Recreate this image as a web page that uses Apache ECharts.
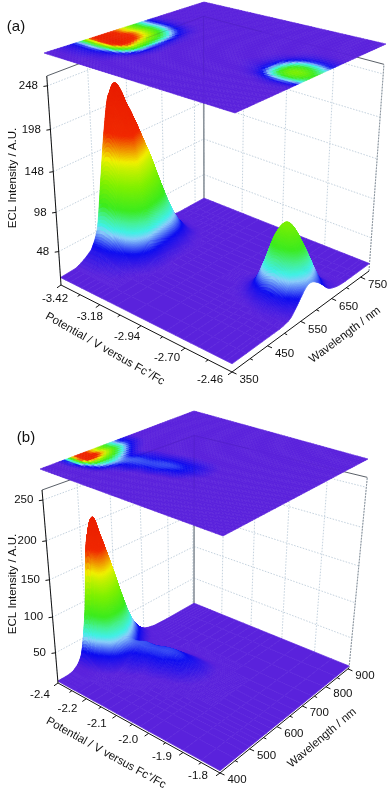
<!DOCTYPE html>
<html><head><meta charset="utf-8">
<style>html,body{margin:0;padding:0;background:#fff}#c{width:388px;height:791px}</style>
<script src="https://cdn.jsdelivr.net/npm/echarts@6/dist/echarts.min.js"></script>
</head><body><div id="c"></div>
<script>
const potentialsA=[-3.42,-3.39,-3.36,-3.32,-3.29,-3.26,-3.23,-3.2,-3.17,-3.13,-3.08,-2.99,-2.89,-2.8,-2.75,-2.71,-2.67,-2.63,-2.59,-2.55,-2.51,-2.49,-2.46];
const wavelengthsA=[350,390,435,455,470,485,500,515,530,550,565,580,600,615,635,650,670,695,715,735,780];
const intensityA=[
[14,14,14,14,14,14,14,14,14,14,14,14,14,14,14,14,14,14,14,14,14,14,14],
[15,15,15,15,14,14,14,14,14,14,14,14,14,14,14,14,14,14,14,14,14,14,14],
[28,29,29,27,24,22,19,16,15,14,14,14,14,14,14,14,14,14,14,14,14,14,14],
[53,56,55,51,43,36,27,20,16,14,14,14,14,14,14,14,14,14,14,14,14,14,14],
[112,119,117,106,88,69,48,29,19,15,14,14,14,14,14,14,14,15,15,15,14,14,14],
[171,183,180,163,132,102,68,38,22,15,14,14,14,14,14,14,15,15,15,15,15,15,14],
[210,225,221,200,162,124,82,44,25,16,14,14,14,14,14,15,15,16,17,17,16,16,15],
[196,210,206,186,151,116,77,41,24,16,14,14,14,14,15,16,18,22,23,22,20,19,17],
[180,193,189,172,139,107,71,39,23,15,14,14,14,15,16,20,28,38,42,40,34,29,24],
[155,166,163,148,120,93,63,35,22,15,14,14,14,15,19,27,47,70,80,75,62,48,36],
[136,145,142,129,106,82,56,32,21,15,14,14,14,16,20,32,58,89,102,95,77,60,44],
[112,119,117,106,88,69,48,29,19,15,14,14,14,16,20,32,60,92,106,99,80,62,45],
[81,86,85,77,64,51,37,24,18,15,14,14,14,15,19,29,51,77,88,82,67,52,39],
[57,60,59,54,46,38,29,20,16,14,14,14,14,15,18,24,40,58,66,62,51,41,32],
[34,35,35,32,29,25,21,17,15,14,14,14,14,14,16,19,26,35,39,37,32,27,22],
[21,22,22,21,20,18,17,15,14,14,14,14,14,14,15,16,20,24,26,25,23,20,18],
[16,16,16,16,15,15,15,14,14,14,14,14,14,14,14,15,16,17,17,17,16,16,15],
[14,14,14,14,14,14,14,14,14,14,14,14,14,14,14,14,14,14,15,14,14,14,14],
[14,14,14,14,14,14,14,14,14,14,14,14,14,14,14,14,14,14,14,14,14,14,14],
[14,14,14,14,14,14,14,14,14,14,14,14,14,14,14,14,14,14,14,14,14,14,14],
[14,14,14,14,14,14,14,14,14,14,14,14,14,14,14,14,14,14,14,14,14,14,14]];
const potentialTicksA=[-3.42,-3.18,-2.94,-2.70,-2.46];
const potentialLabelsA=["-3.42","-3.18","-2.94","-2.70","-2.46"];
const wavelengthTicksA=[350,450,550,650,750];
const intensityTicksA=[48,98,148,198,248];

const potentialsB=[-2.3,-2.29,-2.28,-2.27,-2.26,-2.25,-2.24,-2.225,-2.2,-2.175,-2.15,-2.125,-2.1,-2.075,-2.05,-2.025,-2.0,-1.95,-1.9,-1.85,-1.8];
const wavelengthsB=[400,450,480,500,515,530,545,560,580,600,620,645,670,700,740,790,845,905];
const intensityB=[
[9,9,9,9,9,9,9,9,9,9,9,9,9,9,9,9,9,9,9,9,9],
[11,11,11,11,11,11,10,10,9,9,9,9,9,9,9,9,9,9,9,9,9],
[29,31,30,27,24,21,19,16,11,10,9,9,9,9,9,9,9,9,9,9,9],
[87,96,91,77,62,48,37,28,15,13,11,10,10,9,9,9,9,9,9,9,9],
[172,187,178,145,112,82,60,40,20,16,12,12,10,10,9,9,9,9,9,9,9],
[190,209,198,163,126,94,69,48,25,21,15,14,11,11,9,9,9,9,9,9,9],
[172,188,180,150,121,92,71,50,31,27,19,18,14,12,10,10,9,9,9,9,9],
[151,166,159,135,110,86,68,50,36,32,27,25,20,17,13,11,10,9,9,9,9],
[123,135,130,111,92,72,57,43,40,38,36,34,28,25,18,14,11,9,9,9,9],
[93,101,98,83,69,55,44,33,38,38,38,38,35,30,22,16,12,10,9,9,9],
[66,71,68,58,48,38,31,24,29,31,35,37,36,32,25,18,13,10,9,9,9],
[40,44,41,36,30,24,19,15,20,22,24,27,28,27,23,17,13,10,9,9,9],
[26,27,26,22,19,16,13,11,13,14,16,18,19,19,18,15,12,10,9,9,9],
[15,15,15,14,12,11,10,10,10,10,11,11,12,11,12,11,10,9,9,9,9],
[10,10,10,10,9,9,9,9,9,9,9,9,9,9,10,9,9,9,9,9,9],
[9,9,9,9,9,9,9,9,9,9,9,9,9,9,9,9,9,9,9,9,9],
[9,9,9,9,9,9,9,9,9,9,9,9,9,9,9,9,9,9,9,9,9],
[9,9,9,9,9,9,9,9,9,9,9,9,9,9,9,9,9,9,9,9,9]];
const potentialTicksB=[-2.3,-2.2,-2.1,-2.0,-1.9,-1.8];
const potentialLabelsB=["-2.4","-2.2","-2.1","-2.0","-1.9","-1.8"];
const wavelengthTicksB=[400,500,600,700,800,900];
const intensityTicksB=[50,100,150,200,250];

const colorStops=[[15,[90,34,220]],[33,[12,12,240]],[50,[140,205,250]],[57,[64,240,230]],[68,[70,240,150]],[82,[60,235,30]],[110,[130,240,0]],[130,[200,240,0]],[138,[240,240,0]],[150,[240,160,0]],[168,[240,40,0]],[230,[232,28,0]]];
function colorOf(z){
  if(z<=colorStops[0][0])return 'rgb('+colorStops[0][1]+')';
  for(let k=1;k<colorStops.length;k++){
    if(z<=colorStops[k][0]){
      const a=colorStops[k-1],b=colorStops[k],t=(z-a[0])/(b[0]-a[0]);
      return 'rgb('+a[1].map((c,n)=>Math.round(c+(b[1][n]-c)*t))+')';
    }
  }
  return 'rgb('+colorStops[colorStops.length-1][1]+')';
}
function homography(p){
  const [p0,p1,p2,p3]=p;
  const dx1=p1[0]-p2[0],dx2=p3[0]-p2[0],sx=p0[0]-p1[0]+p2[0]-p3[0];
  const dy1=p1[1]-p2[1],dy2=p3[1]-p2[1],sy=p0[1]-p1[1]+p2[1]-p3[1];
  const det=dx1*dy2-dx2*dy1;
  const g=(sx*dy2-dx2*sy)/det,h=(dx1*sy-sx*dy1)/det;
  const a=p1[0]-p0[0]+g*p1[0],b=p3[0]-p0[0]+h*p3[0],c=p0[0];
  const d=p1[1]-p0[1]+g*p1[1],e=p3[1]-p0[1]+h*p3[1],f=p0[1];
  return (u,v)=>[a*u+b*v+c,d*u+e*v+f,g*u+h*v+1];
}
const PLANE_CELLS=56;
const panels=[
 {pot:potentialsA,wl:wavelengthsA,zs:intensityA,potRange:[-3.42,-2.46],wlRange:[350,780],zRange:[4,259],
  floor:[[61,285],[232,372],[369,271],[204,205]],plane:[[44,53],[235,113],[386,44],[204,2]],topLeftY:76,vp:[210,2472],planeShift:[.05,-.05],
  potTicks:potentialTicksA,potLabels:potentialLabelsA,wlTicks:wavelengthTicksA,zTicks:intensityTicksA,
  potOff:u=>[-6-16*u,14-6*u],wlOff:[17,8],
  name:"(a)",namePos:[16,27],zTitle:[13,178],potTitle:[105,349,29.7],wlTitle:[345,335,37]},
 {pot:potentialsB,wl:wavelengthsB,zs:intensityB,potRange:[-2.3,-1.8],wlRange:[400,905],zRange:[6,262],
  floor:[[58,683],[220,773],[349,668],[194,605]],plane:[[40,469],[223,536],[368,459],[194,411]],topLeftY:490,vp:[192,2304],planeShift:[.03,-.03],
  potTicks:potentialTicksB,potLabels:potentialLabelsB,wlTicks:wavelengthTicksB,zTicks:intensityTicksB,
  potOff:u=>[-18-4*u,12-9*u],wlOff:[17,7],
  name:"(b)",namePos:[26,438],zTitle:[13,584],potTitle:[106,753,29],wlTitle:[322,738,40]}
];
function fracIndex(list,x){
  if(x<=list[0])return 0;
  for(let k=0;k<list.length-1;k++)if(x<=list[k+1])return k+(x-list[k])/(list[k+1]-list[k]);
  return list.length-1;
}
panels.forEach(p=>{
  p.H=homography(p.floor);p.P=homography(p.plane);
  const t=(p.topLeftY-p.floor[0][1])/(p.vp[1]-p.floor[0][1]);
  p.k=t/(1-t);
  p.nu=x=>(x-p.potRange[0])/(p.potRange[1]-p.potRange[0]);
  p.nv=x=>(x-p.wlRange[0])/(p.wlRange[1]-p.wlRange[0]);
  p.project=(u,v,z)=>{
    const q=p.H(u,v),w=(z-p.zRange[0])/(p.zRange[1]-p.zRange[0]),m=w*p.k;
    return [(q[0]+m*p.vp[0])/(q[2]+m),(q[1]+m*p.vp[1])/(q[2]+m)];
  };
  p.projectPlane=(u,v)=>{const q=p.P(u,v);return [q[0]/q[2],q[1]/q[2]];};
  p.sample=(i,j)=>{
    const ni=p.pot.length,nj=p.wl.length;
    const i0=Math.min(Math.floor(i),ni-2),j0=Math.min(Math.floor(j),nj-2),s=i-i0,t2=j-j0;
    const cr=(a,b,c,d,t)=>b+.5*t*(c-a+t*(2*a-5*b+4*c-d+t*(3*(b-c)+d-a)));
    const row=r=>{
      const R=p.zs[Math.max(0,Math.min(nj-1,r))],at=k=>R[Math.max(0,Math.min(ni-1,k))];
      return cr(at(i0-1),at(i0),at(i0+1),at(i0+2),s);
    };
    return cr(row(j0-1),row(j0),row(j0+1),row(j0+2),t2);
  };
  p.base=Math.min(...p.zs.map(r=>Math.min(...r)));
});
function cellElements(p,i,j,api){
  const Z=p.zs,c=[Z[j][i],Z[j][i+1],Z[j+1][i],Z[j+1][i+1]],rng=Math.max(...c)-Math.min(...c);
  const N=rng<1.5?1:Math.min(12,3+Math.ceil(rng/5));
  const uAt=b=>p.nu(p.pot[i]+(p.pot[i+1]-p.pot[i])*b/N),vAt=a=>p.nv(p.wl[j]+(p.wl[j+1]-p.wl[j])*a/N);
  const zAt=(b,a)=>Math.max(p.base,p.sample(i+b/N,j+a/N));
  const pt=(b,a)=>api.coord(p.project(uAt(b),vAt(a),zAt(b,a)));
  const out=[];
  for(let a=N-1;a>=0;a--)for(let b=0;b<N;b++){
    const col=colorOf((zAt(b,a)+zAt(b+1,a)+zAt(b,a+1)+zAt(b+1,a+1))/4);
    out.push({type:'polygon',shape:{points:[pt(b,a),pt(b+1,a),pt(b+1,a+1),pt(b,a+1)]},style:{fill:col,stroke:col,lineWidth:.7}});
  }
  const edge=[];
  for(let b=0;b<=N;b++)edge.push(pt(b,0));
  for(let a=1;a<=N;a++)edge.push(pt(N,a));
  const meshAlpha=Math.max(...c)<30?.11:.05;
  out.push({type:'polyline',shape:{points:edge},style:{fill:null,stroke:'rgba(255,255,255,'+meshAlpha+')',lineWidth:.5}});
  return {type:'group',children:out};
}
function planeCell(p,i,j,api){
  const n=PLANE_CELLS,pt=(a,b)=>api.coord(p.projectPlane(a/n,b/n));
  const su=p.potRange[0]+((i+.5)/n-p.planeShift[0])*(p.potRange[1]-p.potRange[0]);
  const sv=p.wlRange[0]+((j+.5)/n-p.planeShift[1])*(p.wlRange[1]-p.wlRange[0]);
  const z=Math.max(p.base,p.sample(fracIndex(p.pot,su),fracIndex(p.wl,sv))),col=colorOf(z);
  return {type:'polygon',shape:{points:[pt(i,j),pt(i+1,j),pt(i+1,j+1),pt(i,j+1)]},style:{fill:col,stroke:col,lineWidth:.6}};
}
function cellData(p){
  const d=[];
  for(let j=p.wl.length-2;j>=0;j--)for(let i=0;i<p.pot.length-1;i++)d.push([i,j]);
  return d;
}
function planeData(){
  const d=[];
  for(let j=0;j<PLANE_CELLS;j++)for(let i=0;i<PLANE_CELLS;i++)d.push([i,j]);
  return d;
}
function line(api,a,b,style){
  const A=api.coord(a),B=api.coord(b);
  return {type:'line',shape:{x1:A[0],y1:A[1],x2:B[0],y2:B[1]},style:Object.assign({fill:null},style)};
}
function label(api,pos,text,size,align,rot){
  const q=api.coord(pos);
  return {type:'text',x:q[0],y:q[1],rotation:rot||0,style:{text:text,font:size+'px "Liberation Sans"',fill:'#111',textAlign:align,textVerticalAlign:'middle',align:align,verticalAlign:'middle'}};
}
function wallsGroup(p,api){
  const out=[],zT=p.zRange[1],zB=p.zRange[0];
  const grid={stroke:'#c4d2de',lineWidth:1,lineDash:[1.5,1.5]};
  p.zTicks.forEach(z=>{
    out.push(line(api,p.project(0,0,z),p.project(0,1,z),grid));
    out.push(line(api,p.project(0,1,z),p.project(1,1,z),grid));
  });
  p.wlTicks.forEach(l=>out.push(line(api,p.project(0,p.nv(l),zB),p.project(0,p.nv(l),zT),grid)));
  p.potTicks.forEach(x=>out.push(line(api,p.project(p.nu(x),1,zB),p.project(p.nu(x),1,zT),grid)));
  const edge={stroke:'#5a6068',lineWidth:1};
  out.push(line(api,p.project(0,0,zT),p.project(0,1,zT),edge));
  out.push(line(api,p.project(0,1,zT),p.project(1,1,zT),edge));
  out.push(line(api,p.project(0,1,zB),p.project(0,1,zT),{stroke:'#8c949c',lineWidth:1.6}));
  out.push(line(api,p.project(1,1,zB),p.project(1,1,zT),{stroke:'#8c949c',lineWidth:1,lineDash:[2,1]}));
  return {type:'group',children:out};
}
function axesGroup(p,api){
  const out=[],zB=p.zRange[0],zT=p.zRange[1],ink={stroke:'#111',lineWidth:1};
  out.push(line(api,p.project(0,0,zB),p.project(1,0,zB),ink));
  out.push(line(api,p.project(1,0,zB),p.project(1,1,zB),ink));
  out.push(line(api,p.project(0,0,zB),p.project(0,0,zT),ink));
  p.zTicks.forEach(z=>{
    const q=p.project(0,0,z);
    out.push(line(api,q,[q[0]-4,q[1]+.6],ink));
    out.push(label(api,[q[0]-9.5,q[1]],String(z),11.5,'right'));
  });
  p.potTicks.forEach((x,n)=>{
    const u=p.nu(x),q=p.project(u,0,zB),o=p.potOff(u);
    out.push(line(api,q,[q[0]-4,q[1]+2.8],ink));
    out.push(label(api,[q[0]+o[0],q[1]+o[1]],p.potLabels[n],11.5,'center'));
    if(n<p.potTicks.length-1){
      const m=p.project((u+p.nu(p.potTicks[n+1]))/2,0,zB);
      out.push(line(api,m,[m[0]-2.5,m[1]+1.7],ink));
    }
  });
  p.wlTicks.forEach((l,n)=>{
    const v=p.nv(l),q=p.project(1,v,zB);
    out.push(line(api,q,[q[0]+4.5,q[1]+2],ink));
    out.push(label(api,[q[0]+p.wlOff[0],q[1]+p.wlOff[1]],String(l),11.5,'center'));
    if(n<p.wlTicks.length-1){
      const m=p.project(1,(v+p.nv(p.wlTicks[n+1]))/2,zB);
      out.push(line(api,m,[m[0]+2.8,m[1]+1.3],ink));
    }
  });
  out.push(label(api,p.namePos,p.name,15,'center'));
  out.push(label(api,p.zTitle,'ECL Intensity / A.U.',11.5,'center',Math.PI/2));
  out.push(label(api,[p.potTitle[0],p.potTitle[1]],'Potential / V versus Fc\u207A/Fc',11.5,'center',-p.potTitle[2]*Math.PI/180));
  out.push(label(api,[p.wlTitle[0],p.wlTitle[1]],'Wavelength / nm',11.5,'center',p.wlTitle[2]*Math.PI/180));
  return {type:'group',children:out};
}
function overlayGroup(p,api){
  const s={stroke:'rgba(50,20,130,.13)',lineWidth:1};
  const T=p.zRange[1];
  return {type:'group',children:[
    line(api,p.project(0,1,T),p.project(0.35,1,T),s),
    line(api,p.project(0,1,T),p.project(0,0.6,T),s),
    line(api,p.project(0,1,T),p.project(0,1,T-75),s)]};
}
const base={type:'custom',coordinateSystem:'cartesian2d',silent:true,animation:false,clip:false,progressive:0,encode:{x:0,y:1}};
const series=[];
panels.forEach(p=>{
  series.push(Object.assign({},base,{z:2,data:[[0,0]],renderItem:(a,api)=>wallsGroup(p,api)}));
  series.push(Object.assign({},base,{z:3,data:cellData(p),renderItem:(a,api)=>cellElements(p,api.value(0),api.value(1),api)}));
  series.push(Object.assign({},base,{z:4,data:[[0,0]],renderItem:(a,api)=>axesGroup(p,api)}));
  series.push(Object.assign({},base,{z:5,data:planeData(),renderItem:(a,api)=>planeCell(p,api.value(0),api.value(1),api)}));
  series.push(Object.assign({},base,{z:6,data:[[0,0]],renderItem:(a,api)=>overlayGroup(p,api)}));
});
const chart=echarts.init(document.getElementById('c'),null,{renderer:'canvas'});
chart.setOption({animation:false,backgroundColor:'#fff',
  grid:{left:0,right:0,top:0,bottom:0,containLabel:false},
  xAxis:{type:'value',min:0,max:388,show:false},
  yAxis:{type:'value',min:0,max:791,inverse:true,show:false},
  series:series});
</script></body></html>
